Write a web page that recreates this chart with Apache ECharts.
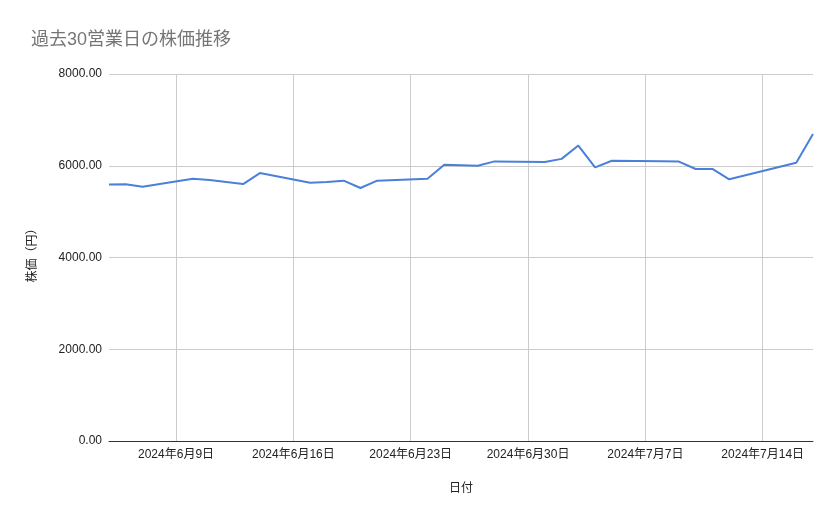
<!DOCTYPE html>
<html>

<head>
  <meta charset="utf-8">
  <title>過去30営業日の株価推移</title>
  <style>
    html, body { margin: 0; padding: 0; background: #fff; }
    #chart { width: 839px; height: 519px; }
  </style>
</head>

<body>
  <div id="chart"></div>
</body>
<script src="https://cdn.jsdelivr.net/npm/echarts@6/dist/echarts.min.js"></script>
<script>
  // 営業日（7/15 は祝日）
  const dates = [
    '2024-06-05', '2024-06-06', '2024-06-07',
    '2024-06-10', '2024-06-11', '2024-06-12', '2024-06-13', '2024-06-14',
    '2024-06-17', '2024-06-18', '2024-06-19', '2024-06-20', '2024-06-21',
    '2024-06-24', '2024-06-25', '2024-06-26', '2024-06-27', '2024-06-28',
    '2024-07-01', '2024-07-02', '2024-07-03', '2024-07-04', '2024-07-05',
    '2024-07-08', '2024-07-09', '2024-07-10', '2024-07-11', '2024-07-12',
    '2024-07-16', '2024-07-17'
  ]
  const prices = [
    5590, 5595, 5540,
    5715, 5690, 5645, 5600, 5840,
    5630, 5645, 5675, 5515, 5675,
    5715, 6020, 6010, 6000, 6095,
    6080, 6150, 6440, 5965, 6110,
    6100, 6090, 5930, 5930, 5705,
    6065, 6690
  ]
  // 目盛り（日曜日）
  const tickDates = ['2024-06-09', '2024-06-16', '2024-06-23', '2024-06-30', '2024-07-07', '2024-07-14']
  const yTicks = [0, 2000, 4000, 6000, 8000]

  const toTime = (s) => {
    const [y, m, d] = s.split('-').map(Number)
    return new Date(y, m - 1, d).getTime()
  }

  const font = '"Liberation Sans", "Noto Sans CJK JP", sans-serif'
  const chart = echarts.init(document.getElementById('chart'))

  const option = {
    backgroundColor: '#fff',
    animation: false,
    title: {
      text: '過去30営業日の株価推移',
      left: 26,
      top: 26,
      textStyle: { color: '#757575', fontSize: 18, fontWeight: 'normal', fontFamily: font },
    },
    grid: { left: 109, right: 26, top: 74, bottom: 78 },
    xAxis: {
      type: 'value',
      scale: true,
      min: toTime('2024-06-05'),
      max: toTime('2024-07-17'),
      name: '日付',
      nameLocation: 'middle',
      nameGap: 42,
      nameTextStyle: { color: '#222', fontSize: 12, fontFamily: font },
      axisLine: { show: true, onZero: false, lineStyle: { color: '#333', width: 1 } },
      axisTick: { show: false, customValues: tickDates.map(toTime) },
      axisLabel: {
        customValues: tickDates.map(toTime),
        color: '#222',
        fontSize: 12,
        fontFamily: font,
        margin: 8,
        formatter: (v) => {
          const d = new Date(v)
          return d.getFullYear() + '年' + (d.getMonth() + 1) + '月' + d.getDate() + '日'
        },
      },
      splitLine: { show: true, lineStyle: { color: '#cccccc', width: 1 } },
    },
    yAxis: {
      type: 'value',
      min: yTicks[0],
      max: yTicks[yTicks.length - 1],
      interval: 2000,
      name: '株価（円）',
      nameLocation: 'middle',
      nameGap: 70,
      nameRotate: 90,
      nameTextStyle: { color: '#222', fontSize: 12, fontFamily: font, padding: [0, 0, 0, 10] },
      axisLine: { show: false },
      axisTick: { show: false },
      axisLabel: {
        color: '#222',
        fontSize: 12,
        fontFamily: font,
        margin: 7,
        formatter: (v) => v.toFixed(2),
      },
      splitLine: { lineStyle: { color: '#cccccc', width: 1 } },
    },
    series: [
      {
        name: '株価',
        type: 'line',
        showSymbol: false,
        symbol: 'none',
        lineStyle: { color: '#4a80d9', width: 2 },
        data: dates.map((d, i) => [toTime(d), prices[i]]),
      },
    ],
  }
  chart.setOption(option)
</script>

</html>
